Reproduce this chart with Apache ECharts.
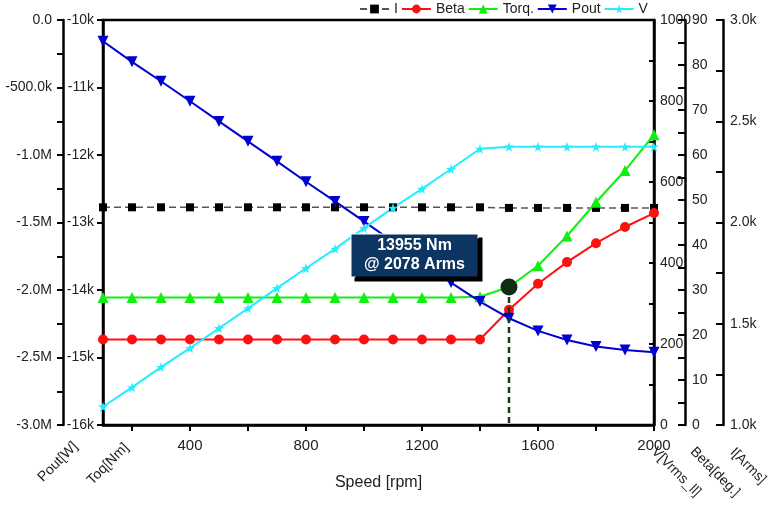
<!DOCTYPE html>
<html>
<head>
<meta charset="utf-8">
<script src="https://cdn.jsdelivr.net/npm/echarts@6/dist/echarts.min.js"></script>
<style>html,body{margin:0;padding:0;background:#fff;}#c{width:773px;height:512px;}</style>
</head>
<body>
<div id="c"></div>
<script>
// ---- data ----
const speed   = [100,200,300,400,500,600,700,800,900,1000,1100,1200,1300,1400,1500,1600,1700,1800,1900,2000];
const current = [2075,2075,2075,2075,2075,2075,2075,2075,2075,2075,2075,2075,2075,2075,2072,2072,2072,2072,2072,2072];
const beta    = [19,19,19,19,19,19,19,19,19,19,19,19,19,19,25.6,31.4,36.2,40.4,44.0,47.1];
const torque  = [-14110,-14110,-14110,-14110,-14110,-14110,-14110,-14110,-14110,-14110,-14110,-14110,-14110,-14100,-13955,-13640,-13200,-12700,-12230,-11700];
const pout    = [-157e3,-310e3,-454e3,-602e3,-751e3,-899e3,-1047e3,-1198e3,-1344e3,-1492e3,-1643e3,-1791e3,-1945e3,-2086e3,-2209e3,-2303e3,-2370e3,-2419e3,-2444e3,-2461e3];
const voltage = [45,93,143,190,239,288,338,387,435,486,536,583,632,682,687,687,687,687,687,687];
const annotSpeed = 1500, annotTorque = -13955, annotCurrent = 2078;
const xTickValues  = [200,400,600,800,1000,1200,1400,1600,1800,2000];
const xLabelValues = [400,800,1200,1600,2000];
const axisNames = ['Pout[W]','Toq[Nm]','V[Vrms_ll]','Beta[deg.]','I[Arms]'];

const FONT = 'Liberation Sans, Arial, sans-serif';
const TXT = '#222';
const pair = arr => speed.map((s,i)=>[s,arr[i]]);
const starPath = 'path://M50,0 L61,35 L98,35 L68,57 L79,91 L50,70 L21,91 L32,57 L2,35 L39,35 Z';

function yAx(o){
  return Object.assign({
    type:'value', splitLine:{show:false},
    axisLine:{show:true, onZero:false, lineStyle:{color:'#000', width:2.5}},
    axisTick:{show:true, length:6, lineStyle:{color:'#000', width:2}},
    minorTick:{show:false},
    axisLabel:{color:TXT, fontFamily:FONT, fontSize:14}
  }, o);
}
const fmtPout = v => v===0 ? '0.0' : (Math.abs(v)<1e6 ? (v/1000).toFixed(1)+'k' : (v/1e6).toFixed(1)+'M');

const option = {
  animation:false,
  backgroundColor:'#fff',
  textStyle:{fontFamily:FONT},
  legend:{
    left:354, top:0, padding:[2,5], itemWidth:29, itemHeight:11, itemGap:3,
    textStyle:{color:TXT, fontSize:14, fontFamily:FONT},
    data:['I','Beta','Torq.','Pout','V']
  },
  grid:{left:103, right:119, top:20, bottom:87, show:true, borderColor:'#000', borderWidth:2.5, containLabel:false},
  xAxis:{
    type:'value', min:100, max:2000,
    name:'Speed [rpm]', nameLocation:'middle', nameGap:50,
    nameTextStyle:{color:TXT, fontSize:16, fontFamily:FONT},
    splitLine:{show:false},
    axisLine:{onZero:false, lineStyle:{color:'#000', width:2.5}},
    axisTick:{show:true, length:6, customValues:xTickValues, lineStyle:{color:'#000', width:2}},
    axisLabel:{customValues:xLabelValues, color:TXT, fontSize:15, fontFamily:FONT, margin:13, formatter:v=>String(v)}
  },
  yAxis:[
    yAx({position:'left', offset:40, min:-3e6, max:0, interval:5e5,
         minorTick:{show:true, splitNumber:2, length:6, lineStyle:{color:'#000', width:2}},
         axisLabel:{color:TXT, fontFamily:FONT, fontSize:14, margin:11, formatter:fmtPout}}),
    yAx({position:'left', offset:0, min:-16000, max:-10000, interval:1000,
         axisLabel:{color:TXT, fontFamily:FONT, fontSize:14, margin:9, formatter:v=>(v/1000)+'k'}}),
    yAx({position:'right', offset:0, min:0, max:1000, interval:200,
         axisTick:{show:true, inside:true, length:5, lineStyle:{color:'#000', width:2}},
         minorTick:{show:true, splitNumber:2, length:5, lineStyle:{color:'#000', width:2}},
         axisLabel:{color:TXT, fontFamily:FONT, fontSize:14, margin:6, formatter:v=>String(v)}}),
    yAx({position:'right', offset:31, min:0, max:90, interval:10,
         axisTick:{show:true, inside:true, length:7, lineStyle:{color:'#000', width:2}},
         minorTick:{show:true, splitNumber:2, length:7, lineStyle:{color:'#000', width:2}},
         axisLabel:{color:TXT, fontFamily:FONT, fontSize:14, margin:7, formatter:v=>String(v)}}),
    yAx({position:'right', offset:69, min:1000, max:3000, interval:500,
         axisTick:{show:true, inside:true, length:7, lineStyle:{color:'#000', width:2}},
         minorTick:{show:true, splitNumber:2, length:7, lineStyle:{color:'#000', width:2}},
         axisLabel:{color:TXT, fontFamily:FONT, fontSize:14, margin:7, formatter:v=>(v/1000).toFixed(1)+'k'}})
  ],
  series:[
    {name:'I', type:'line', yAxisIndex:4, data:pair(current), symbol:'rect', symbolSize:8,
     itemStyle:{color:'#000'}, lineStyle:{color:'#555', width:1.5, type:[7,4]}},
    {name:'Beta', type:'line', yAxisIndex:3, data:pair(beta), symbol:'circle', symbolSize:10,
     itemStyle:{color:'#ff1010'}, lineStyle:{color:'#ff1010', width:2}},
    {name:'Torq.', type:'line', yAxisIndex:1, data:pair(torque), symbol:'triangle', symbolSize:11,
     itemStyle:{color:'#11ee11'}, lineStyle:{color:'#11ee11', width:2}},
    {name:'Pout', type:'line', yAxisIndex:0, data:pair(pout), symbol:'triangle', symbolRotate:180, symbolSize:11,
     itemStyle:{color:'#0000d0'}, lineStyle:{color:'#0000d0', width:2}},
    {name:'V', type:'line', yAxisIndex:2, data:pair(voltage), symbol:starPath, symbolSize:10,
     itemStyle:{color:'#22eeff'}, lineStyle:{color:'#22eeff', width:2}},
    {name:'annotLine', type:'line', yAxisIndex:1, data:[[annotSpeed,annotTorque],[annotSpeed,-16000]],
     symbol:'none', silent:true, lineStyle:{color:'#173a17', width:2.5, type:[6,4]}, z:5},
    {name:'annot', type:'scatter', yAxisIndex:1, data:[[annotSpeed,annotTorque]], symbol:'circle', symbolSize:17,
     itemStyle:{color:'#0e2d12', opacity:1}, z:10, zlevel:1,
     label:{show:true, position:[-86,-44], verticalAlign:'top',
       formatter:()=>Math.abs(annotTorque)+' Nm\n@ '+annotCurrent+' Arms',
       color:'#fff', fontWeight:'bold', fontSize:16, fontFamily:FONT, lineHeight:19,
       align:'center', width:126, padding:[2,0,2,0], opacity:1,
       backgroundColor:'#0d3561', borderColor:'#fff', borderWidth:1,
       shadowColor:'#000', shadowOffsetX:4, shadowOffsetY:4, shadowBlur:0}}
  ],
  graphic:[
    {type:'text', x:58, y:462, rotation:Math.PI/4, style:{text:axisNames[0], x:0, y:0, textAlign:'center', textVerticalAlign:'middle', fill:TXT, font:'14px '+FONT}},
    {type:'text', x:108, y:464, rotation:Math.PI/4, style:{text:axisNames[1], x:0, y:0, textAlign:'center', textVerticalAlign:'middle', fill:TXT, font:'14px '+FONT}},
    {type:'text', x:676, y:472, rotation:-Math.PI/4, style:{text:axisNames[2], x:0, y:0, textAlign:'center', textVerticalAlign:'middle', fill:TXT, font:'14px '+FONT}},
    {type:'text', x:715, y:472, rotation:-Math.PI/4, style:{text:axisNames[3], x:0, y:0, textAlign:'center', textVerticalAlign:'middle', fill:TXT, font:'14px '+FONT}},
    {type:'text', x:748, y:466, rotation:-Math.PI/4, style:{text:axisNames[4], x:0, y:0, textAlign:'center', textVerticalAlign:'middle', fill:TXT, font:'14px '+FONT}}
  ]
};
const chart = echarts.init(document.getElementById('c'), null, {renderer:'canvas'});
chart.setOption(option);
</script>
</body>
</html>
